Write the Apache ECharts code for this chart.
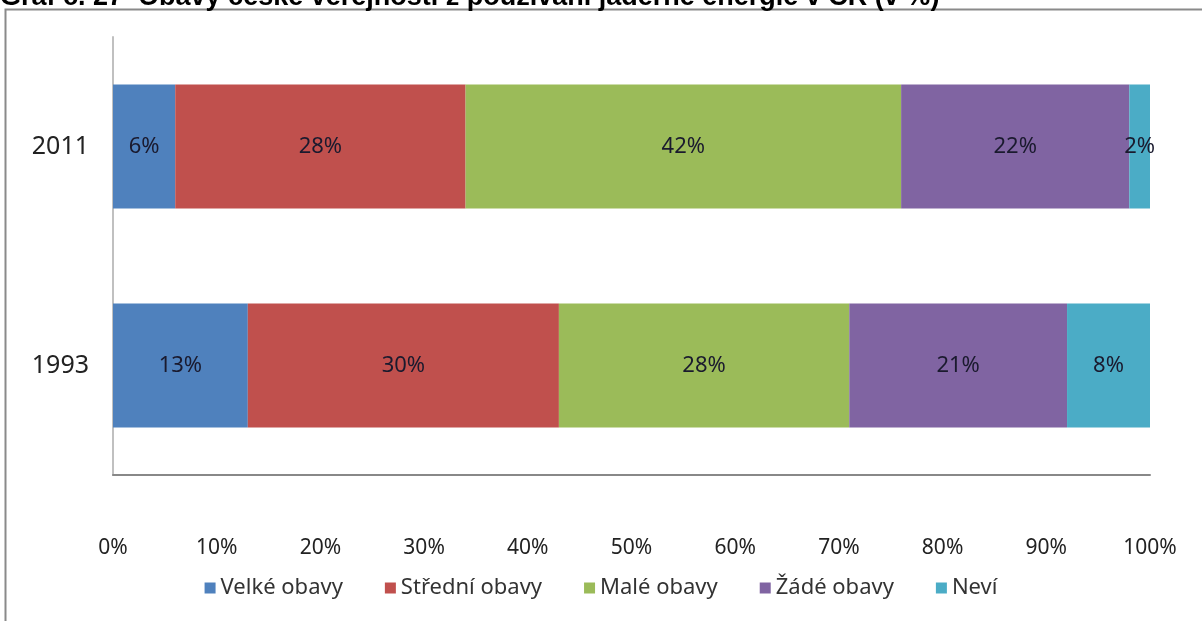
<!DOCTYPE html>
<html>
<head>
<meta charset="utf-8">
<script src="https://cdn.jsdelivr.net/npm/echarts@6/dist/echarts.min.js"></script>
<style>
  html, body { margin: 0; padding: 0; background: #fff; }
  #chart { width: 1202px; height: 621px; }
</style>
</head>
<body>
<div id="chart"></div>
<script>
// roky (odspodu nahoru)
const years = ['1993', '2011']
const seriesNames = ['Velké obavy', 'Střední obavy', 'Malé obavy', 'Žádé obavy', 'Neví']
const velke = [13, 6]
const stredni = [30, 28]
const male = [28, 42]
const zadne = [21, 22]
const nevi = [8, 2]
const colors = ['#4F81BD', '#C0504D', '#9BBB59', '#8064A2', '#4BACC6']
const xTicks = [0, 10, 20, 30, 40, 50, 60, 70, 80, 90, 100]

const values = [velke, stredni, male, zadne, nevi]
const font = 'Noto Sans'

const chart = echarts.init(document.getElementById('chart'))

chart.setOption({
  animation: false,
  textStyle: { fontFamily: font },
  title: {
    text: 'Graf č. 27  Obavy české veřejnosti z používání jaderné energie v ČR (v %)',
    left: 0,
    top: -16,
    padding: 0,
    textStyle: { fontFamily: 'Liberation Sans', fontWeight: 'bold', fontSize: 27, color: '#000' }
  },
  graphic: [
    {
      type: 'rect',
      shape: { x: 5.5, y: 9.5, width: 1230, height: 640 },
      style: { fill: '#fff', stroke: '#8a8a8a', lineWidth: 2 },
      z: -1,
      silent: true
    }
  ],
  legend: {
    bottom: 17,
    left: 'center',
    itemWidth: 11,
    itemHeight: 11,
    itemGap: 42,
    icon: 'rect',
    textStyle: { fontSize: 22, color: '#333', fontFamily: font },
    data: seriesNames
  },
  grid: { left: 113, right: 52, top: 37, bottom: 146 },
  xAxis: {
    type: 'value',
    min: 0,
    max: 100,
    interval: 10,
    axisLine: { show: true, lineStyle: { color: '#888', width: 2 } },
    axisTick: { show: false },
    splitLine: { show: false },
    axisLabel: {
      margin: 63,
      fontSize: 21,
      color: '#222',
      formatter: v => xTicks.includes(v) ? v + '%' : ''
    }
  },
  yAxis: {
    type: 'category',
    data: years,
    axisLine: { show: true, lineStyle: { color: '#c0c0c0', width: 2 } },
    axisTick: { show: false },
    axisLabel: { margin: 24, fontSize: 25, color: '#222' }
  },
  series: seriesNames.map((name, i) => ({
    name,
    type: 'bar',
    stack: 'total',
    barWidth: 124,
    itemStyle: { color: colors[i] },
    label: {
      show: true,
      position: 'inside',
      formatter: p => p.value + '%',
      fontSize: 22,
      color: '#1a1a2e'
    },
    data: values[i]
  }))
})
</script>
</body>
</html>
